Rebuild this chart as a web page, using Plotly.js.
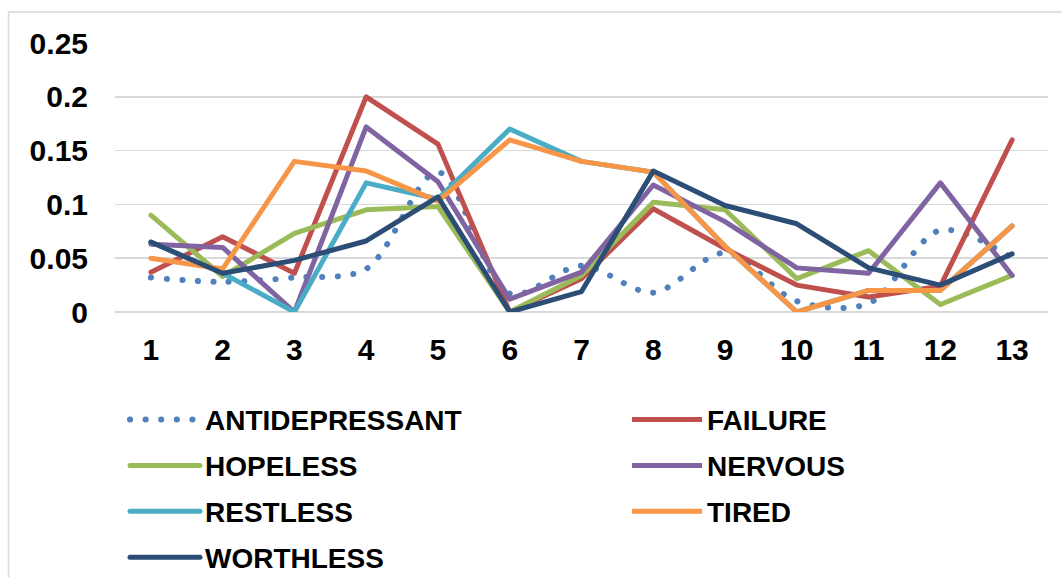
<!DOCTYPE html>
<html>
<head>
<meta charset="utf-8">
<script src="https://cdn.plot.ly/plotly-3.0.1.min.js"></script>
<style>
html, body { margin: 0; padding: 0; background: #fff; }
#chart { width: 1062px; height: 577px; }
.scatterlayer .js-line, .legend .js-line { stroke-linecap: round; stroke-linejoin: round; }
</style>
</head>
<body>
<div id="chart"></div>
<script>
const categories = [1, 2, 3, 4, 5, 6, 7, 8, 9, 10, 11, 12, 13];
const tickLabels = ["1", "2", "3", "4", "5", "6", "7", "8", "9", "10", "11", "12", "13"];

const antidepressant = [0.032, 0.028, 0.032, 0.040, 0.130, 0.017, 0.043, 0.018, 0.055, 0.010, 0.008, 0.076, 0.050];
const failure        = [0.037, 0.070, 0.036, 0.200, 0.156, 0.000, 0.031, 0.096, 0.059, 0.025, 0.014, 0.024, 0.160];
const hopeless       = [0.090, 0.033, 0.073, 0.095, 0.098, 0.000, 0.034, 0.102, 0.095, 0.031, 0.057, 0.007, 0.034];
const nervous        = [0.063, 0.060, 0.000, 0.172, 0.121, 0.012, 0.037, 0.118, 0.084, 0.041, 0.036, 0.120, 0.034];
const restless       = [0.065, 0.036, 0.000, 0.120, 0.105, 0.170, 0.140, 0.130, 0.061, 0.000, 0.020, 0.020, 0.080];
const tired          = [0.050, 0.040, 0.140, 0.131, 0.103, 0.160, 0.140, 0.130, 0.061, 0.000, 0.020, 0.020, 0.080];
const worthless      = [0.065, 0.036, 0.048, 0.066, 0.107, 0.000, 0.019, 0.131, 0.099, 0.082, 0.041, 0.025, 0.054];

const seriesNames = ["ANTIDEPRESSANT", "FAILURE", "HOPELESS", "NERVOUS", "RESTLESS", "TIRED", "WORTHLESS"];
const seriesValues = [antidepressant, failure, hopeless, nervous, restless, tired, worthless];
const seriesColors = ["#4F81BD", "#C0504D", "#9BBB59", "#8064A2", "#4BACC6", "#F79646", "#2C4D75"];
// legend column for each series (Excel fills rows left-to-right)
const seriesLegend = ["legend", "legend2", "legend", "legend2", "legend", "legend2", "legend"];

const FONT = '"Liberation Sans", Arial, sans-serif';

const traces = seriesNames.map((name, i) => ({
  type: 'scatter',
  mode: 'lines',
  name: name,
  legend: seriesLegend[i],
  legendgroup: 'g' + i,
  x: categories,
  y: seriesValues[i],
  line: i === 0
    ? { color: seriesColors[i], width: 6, dash: '0.1px,15.5px', shape: 'spline', smoothing: 0.9 }
    : { color: seriesColors[i], width: 5 },
  hoverinfo: 'x+y+name'
}));

const legendCommon = {
  orientation: 'v',
  xanchor: 'left',
  y: -0.308,
  yanchor: 'top',
  itemwidth: 70,
  font: { family: FONT, size: 28, color: '#000000', weight: 'bold' },
  bgcolor: 'rgba(0,0,0,0)',
  borderwidth: 0,
  tracegroupgap: 6.5
};

const layout = {
  width: 1062,
  height: 577,
  margin: { l: 115, r: 14, t: 43, b: 265, autoexpand: false },
  paper_bgcolor: '#ffffff',
  plot_bgcolor: '#ffffff',
  font: { family: FONT, size: 28, color: '#000000', weight: 'bold' },
  showlegend: true,
  xaxis: {
    type: 'linear',
    range: [0.5, 13.5],
    tickvals: categories,
    ticktext: tickLabels,
    showgrid: false,
    zeroline: false,
    showline: false,
    ticks: '',
    ticklabelstandoff: 17,
    tickfont: { family: FONT, size: 30, color: '#000000', weight: 'bold' },
    fixedrange: true,
    automargin: false
  },
  yaxis: {
    range: [0, 0.25],
    tickvals: [0, 0.05, 0.1, 0.15, 0.2, 0.25],
    ticktext: ["0", "0.05", "0.1", "0.15", "0.2", "0.25"],
    showgrid: true,
    gridcolor: '#D9D9D9',
    gridwidth: 1.5,
    zeroline: true,
    zerolinecolor: '#D9D9D9',
    zerolinewidth: 1.5,
    showline: false,
    ticks: '',
    ticklabelstandoff: 26,
    tickfont: { family: FONT, size: 30, color: '#000000', weight: 'bold' },
    fixedrange: true,
    automargin: false
  },
  legend: Object.assign({}, legendCommon, { x: 10 / 933 }),
  legend2: Object.assign({}, legendCommon, { x: 512 / 933 }),
  shapes: [
    { type: 'line', xref: 'paper', yref: 'paper', x0: (8.5 - 115) / 933, x1: (8.5 - 115) / 933, y0: (312 - 12) / 269, y1: (312 - 580) / 269, line: { color: '#D9D9D9', width: 1.5 } },
    { type: 'line', xref: 'paper', yref: 'paper', x0: (8.5 - 115) / 933, x1: (1065 - 115) / 933, y0: (312 - 12) / 269, y1: (312 - 12) / 269, line: { color: '#D9D9D9', width: 1.5 } }
  ]
};

Plotly.newPlot('chart', traces, layout, { displayModeBar: false, staticPlot: true });
</script>
</body>
</html>
